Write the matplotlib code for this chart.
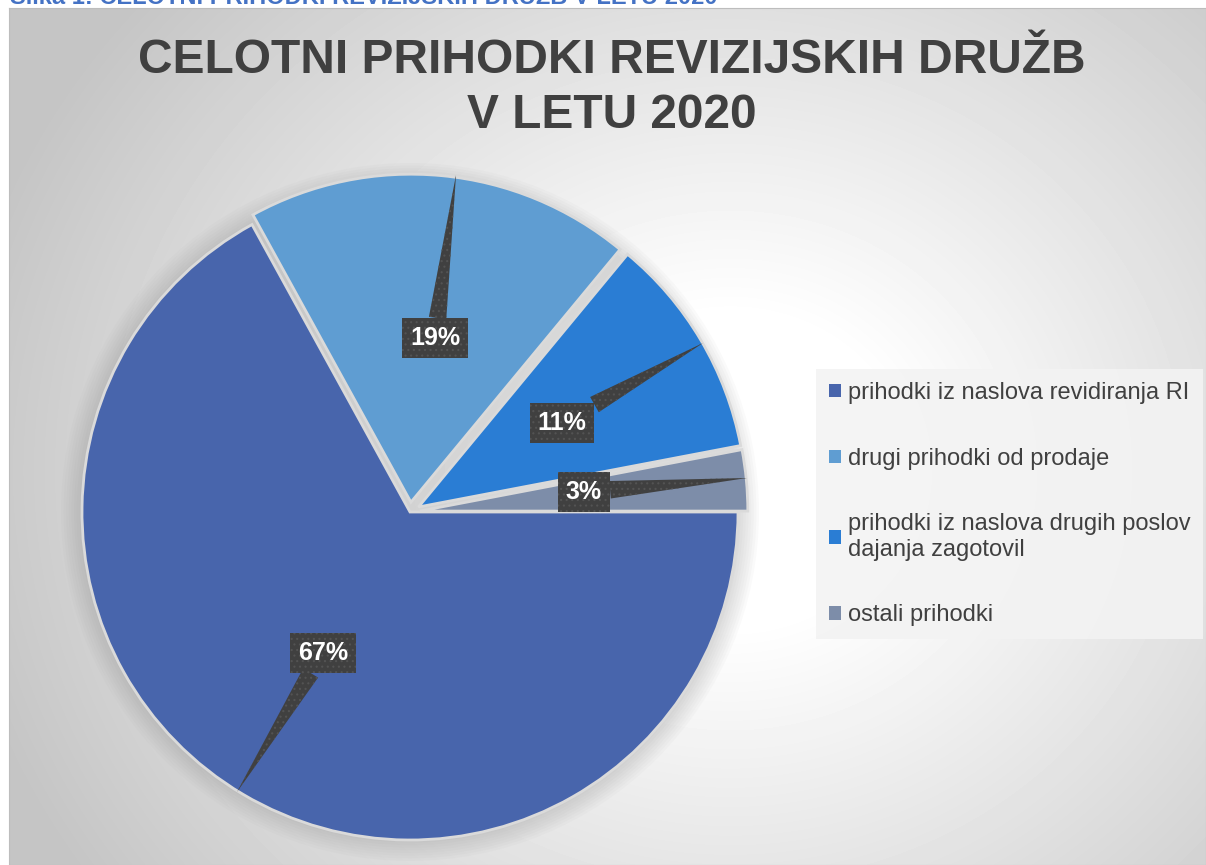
import numpy as np
import matplotlib
matplotlib.use('Agg')
import matplotlib.pyplot as plt
from matplotlib.patches import Patch, Circle

plt.rcParams['font.family'] = ['Liberation Sans', 'DejaVu Sans']
plt.rcParams['hatch.linewidth'] = 0.8

# data
categories = ['prihodki iz naslova revidiranja RI',
              'drugi prihodki od prodaje',
              'prihodki iz naslova drugih poslov\ndajanja zagotovil',
              'ostali prihodki']
shares = [67, 19, 11, 3]
pct_labels = ['67%', '19%', '11%', '3%']
colors = ['#4865ac', '#5f9dd2', '#2a7dd4', '#7d8da9']

title1 = 'CELOTNI PRIHODKI REVIZIJSKIH DRUŽB'
title2 = 'V LETU 2020'
caption = 'Slika 1: CELOTNI PRIHODKI REVIZIJSKIH DRUŽB V LETU 2020'

W, H = 1206, 865
fig = plt.figure(figsize=(W / 100, H / 100), dpi=100)
fig.patch.set_facecolor('white')

# chart area background with radial gradient
bg = fig.add_axes([9 / W, 0, (W - 9) / W, (H - 8) / H])
xx, yy = np.meshgrid(np.arange(9, W), np.arange(8, H))
d = np.hypot(xx - 730, (yy - 470) * 1.1)
t = np.clip((d - 170) / 620, 0, 1)
grad = 1 - t * 0.23
bg.imshow(grad, cmap='gray', vmin=0, vmax=1, aspect='auto',
          extent=[9, W, H, 8], interpolation='bilinear')
bg.set_xticks([])
bg.set_yticks([])
for s in bg.spines.values():
    s.set_color('#bdbdbd')

# caption above the chart, cut off by the page edge as in the source
fig.text(10 / W, 1 - 4 / H, caption, ha='left', va='baseline',
         fontsize=17, fontweight='bold', color='#4472c4')

fig.text(612 / W, 1 - 73 / H, title1, ha='center', va='baseline',
         fontsize=34.5, fontweight='bold', color='#404040')
fig.text(612 / W, 1 - 128 / H, title2, ha='center', va='baseline',
         fontsize=34.5, fontweight='bold', color='#404040')

# pie
R = 328
cx, cy = 410, 512
lim = 1.1
size = 2 * lim * R
ax = fig.add_axes([(cx - size / 2) / W, (H - cy - size / 2) / H, size / W, size / H])

# soft halo behind the pie
for k in range(8):
    ax.add_patch(Circle((0, 0), 1.0 + 0.008 * (k + 1), color='#8c8c8c',
                        alpha=0.04, lw=0, zorder=0))

wedges, _ = ax.pie(shares, colors=colors, startangle=0, counterclock=False,
                   explode=[0, 0.03, 0.03, 0.03],
                   wedgeprops=dict(edgecolor='#dadada', linewidth=2))
ax.set_xlim(-lim, lim)
ax.set_ylim(-lim, lim)
ax.set_aspect('equal')
ax.axis('off')

# label callouts (pixel positions of box centre and pointer tip)
label_px = [(323, 653), (435, 338), (562, 423), (584, 492)]
tip_px = [(237, 792), (456, 175), (703, 343), (747, 478)]
for lab, (lx, ly), (tx, ty) in zip(pct_labels, label_px, tip_px):
    ax.annotate(lab, xy=((tx - cx) / R, (cy - ty) / R),
                xytext=((lx - cx) / R, (cy - ly) / R),
                ha='center', va='center', fontsize=18, fontweight='bold',
                color='white', zorder=5,
                bbox=dict(boxstyle='square,pad=0.32', fc='#404040',
                          ec='#535353', lw=0, hatch='...'),
                arrowprops=dict(arrowstyle='wedge,tail_width=0.7', fc='#404040',
                                ec='#535353', lw=0, hatch='...',
                                shrinkA=0, shrinkB=0))

handles = [Patch(facecolor=c, edgecolor='none') for c in colors]
leg = ax.legend(handles, categories, loc='upper left',
                bbox_to_anchor=(816 / W, 1 - 369 / H), bbox_transform=fig.transFigure,
                frameon=True, fancybox=False, facecolor='#f3f3f3', edgecolor='none',
                framealpha=0.9, fontsize=17, labelcolor='#404040',
                handlelength=0.5, handleheight=0.5, handletextpad=0.3,
                labelspacing=1.85, borderpad=0.55, borderaxespad=0)
leg.get_frame().set_linewidth(0)

fig.savefig('out.png', dpi=100)
